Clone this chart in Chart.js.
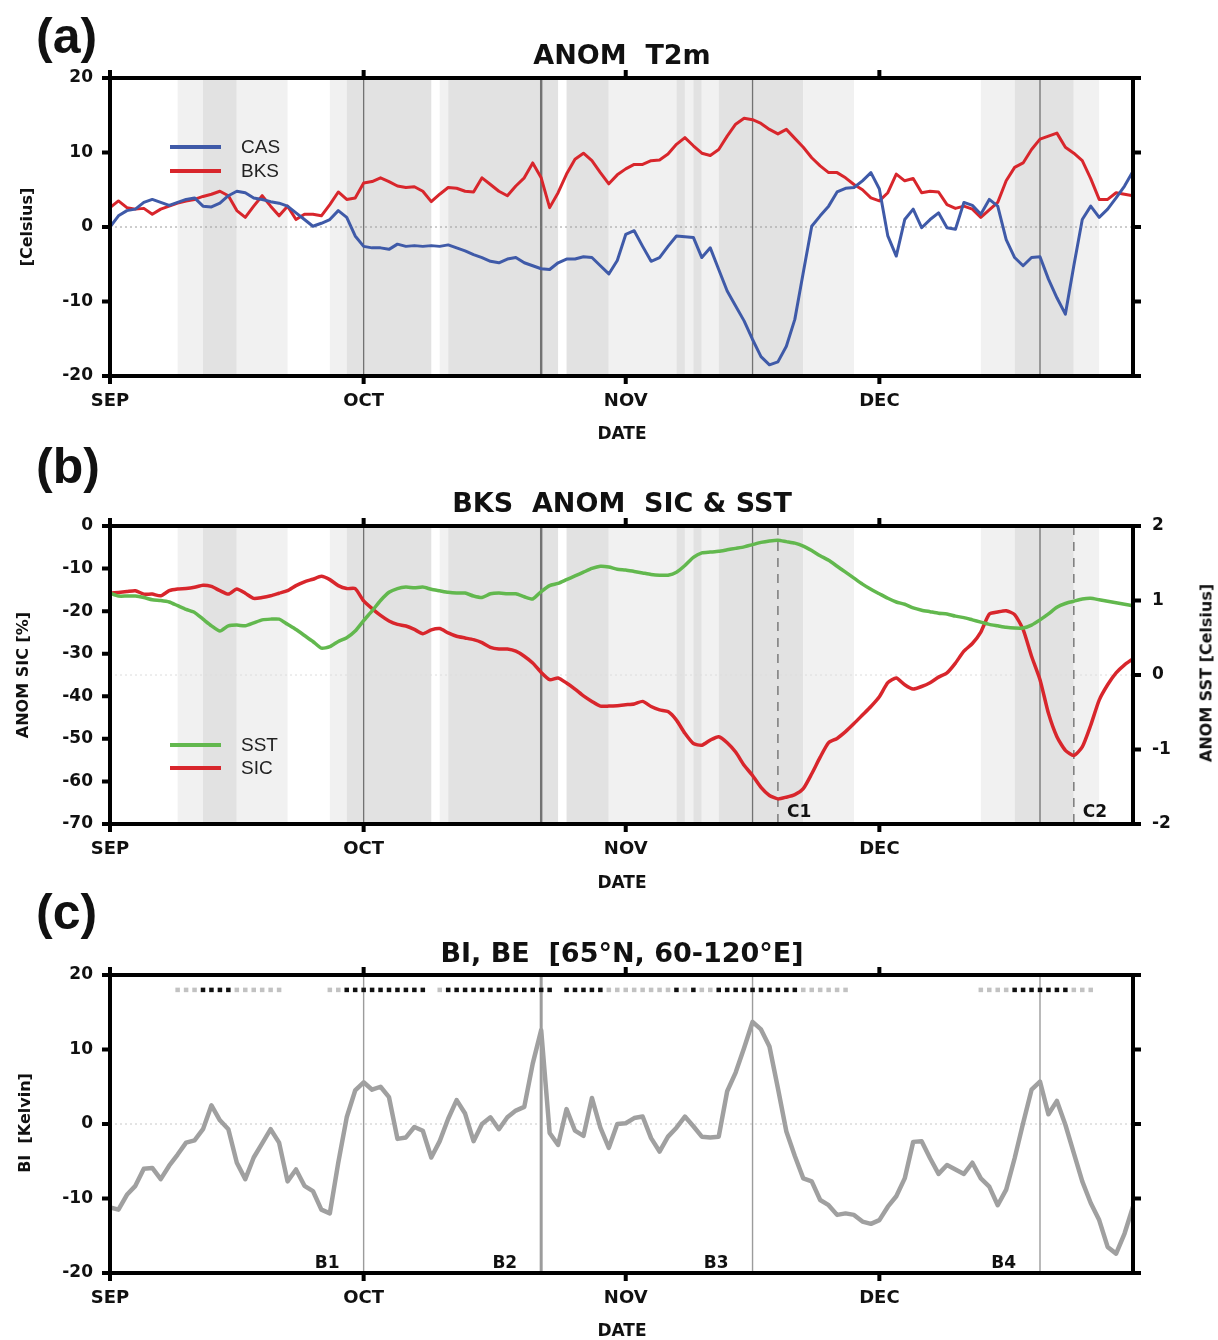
<!DOCTYPE html>
<html>
<head>
<meta charset="utf-8">
<script src="https://cdn.jsdelivr.net/npm/chart.js@4.4.1/dist/chart.umd.min.js"></script>
<style>
  body { margin: 0; background: #fff; width: 1218px; height: 1340px; position: relative; overflow: hidden; }
  canvas { position: absolute; left: 0; }
  .txt { position: absolute; white-space: pre; line-height: 1; color: #111; }
</style>
</head>
<body>
<canvas id="panel-a" width="1218" height="448" style="top:0px"></canvas>
<canvas id="panel-b" width="1218" height="449" style="top:448px"></canvas>
<canvas id="panel-c" width="1218" height="443" style="top:897px"></canvas>
<script>
// --- Data (day 0 = 1 Sep, day 121 = 31 Dec) ---
const monthStarts = [0, 30, 61, 91];
const monthNames = ['SEP', 'OCT', 'NOV', 'DEC'];

const casT2m = [
  0.0, 1.5, 2.2, 2.4, 3.3, 3.7, 3.3, 2.9, 3.3, 3.7, 3.9, 2.8, 2.7, 3.2, 4.2, 4.8, 4.6, 3.9, 3.7, 3.4,
  3.2, 2.8, 1.9, 1.0, 0.1, 0.5, 1.0, 2.2, 1.3, -1.2, -2.6, -2.8, -2.8, -3.0, -2.3, -2.6, -2.5, -2.6, -2.5, -2.6,
  -2.4, -2.8, -3.2, -3.7, -4.1, -4.6, -4.8, -4.3, -4.1, -4.8, -5.2, -5.6, -5.7, -4.8, -4.3, -4.3, -4.0, -4.1, -5.2, -6.3,
  -4.5, -1.0, -0.5, -2.6, -4.6, -4.1, -2.6, -1.2, -1.3, -1.4, -4.1, -2.8, -5.7, -8.6, -10.6, -12.6, -15.1, -17.4, -18.5, -18.1,
  -16.0, -12.4, -6.1, 0.1, 1.5, 2.8, 4.7, 5.2, 5.3, 6.2, 7.3, 5.1, -1.2, -3.9, 1.0, 2.4, -0.1, 1.0, 1.9, -0.1,
  -0.3, 3.3, 2.9, 1.7, 3.7, 2.8, -1.7, -4.1, -5.2, -4.1, -4.0, -7.0, -9.5, -11.7, -5.2, 1.0, 2.8, 1.3, 2.4, 3.9,
  5.5, 7.5
];
const bksT2m = [
  2.6, 3.5, 2.6, 2.4, 2.5, 1.7, 2.4, 2.8, 3.2, 3.5, 3.7, 4.1, 4.4, 4.8, 4.2, 2.2, 1.3, 2.8, 4.2, 2.8,
  1.5, 2.8, 1.0, 1.7, 1.7, 1.5, 3.0, 4.7, 3.7, 3.9, 5.9, 6.1, 6.6, 6.1, 5.5, 5.3, 5.4, 4.8, 3.4, 4.4,
  5.3, 5.2, 4.8, 4.7, 6.6, 5.7, 4.8, 4.2, 5.5, 6.6, 8.6, 6.6, 2.6, 4.6, 7.1, 9.1, 9.9, 8.9, 7.3, 5.8,
  7.0, 7.8, 8.4, 8.4, 8.9, 9.0, 9.8, 11.1, 12.0, 10.9, 9.9, 9.6, 10.4, 12.2, 13.8, 14.6, 14.4, 13.9, 13.1, 12.5,
  13.1, 11.9, 10.7, 9.3, 8.2, 7.3, 7.3, 6.6, 5.7, 5.0, 3.9, 3.5, 4.6, 7.1, 6.2, 6.5, 4.6, 4.8, 4.7, 3.0,
  2.5, 2.8, 2.4, 1.3, 2.3, 3.3, 6.2, 8.0, 8.6, 10.4, 11.8, 12.2, 12.6, 10.7, 9.9, 8.9, 6.5, 3.7, 3.7, 4.6,
  4.4, 4.2
];
const bksSst = [
  1.10, 1.06, 1.06, 1.06, 1.04, 1.01, 1.00, 0.98, 0.93, 0.88, 0.84, 0.75, 0.66, 0.59, 0.66, 0.67, 0.66, 0.70, 0.74, 0.75,
  0.75, 0.68, 0.61, 0.53, 0.45, 0.36, 0.38, 0.45, 0.50, 0.59, 0.73, 0.86, 1.00, 1.11, 1.16, 1.18, 1.17, 1.18, 1.15, 1.13,
  1.11, 1.10, 1.10, 1.06, 1.04, 1.09, 1.10, 1.09, 1.09, 1.05, 1.02, 1.12, 1.20, 1.23, 1.28, 1.33, 1.38, 1.43, 1.46, 1.45,
  1.42, 1.41, 1.39, 1.37, 1.35, 1.34, 1.34, 1.38, 1.47, 1.58, 1.64, 1.65, 1.66, 1.68, 1.70, 1.72, 1.75, 1.78, 1.80, 1.81,
  1.79, 1.77, 1.73, 1.67, 1.60, 1.54, 1.46, 1.38, 1.30, 1.22, 1.15, 1.09, 1.03, 0.98, 0.95, 0.90, 0.87, 0.85, 0.83, 0.82,
  0.79, 0.77, 0.74, 0.71, 0.68, 0.66, 0.64, 0.63, 0.63, 0.67, 0.74, 0.82, 0.91, 0.96, 0.99, 1.02, 1.03, 1.01, 0.99, 0.97,
  0.95, 0.93
];
const bksSic = [
  -15.8, -15.6, -15.4, -15.2, -16.0, -16.0, -16.4, -15.2, -14.8, -14.7, -14.4, -13.9, -14.2, -15.2, -16.0, -14.8, -15.8, -17.0, -16.8, -16.4,
  -15.8, -15.2, -14.0, -13.1, -12.5, -11.8, -12.6, -14.0, -14.7, -14.7, -17.6, -19.4, -21.0, -22.3, -23.1, -23.5, -24.3, -25.3, -24.4, -24.1,
  -25.1, -25.9, -26.3, -26.7, -27.4, -28.5, -28.9, -28.9, -29.4, -30.6, -32.2, -34.4, -36.1, -35.7, -36.9, -38.3, -39.9, -41.2, -42.3, -42.3,
  -42.2, -42.0, -41.8, -41.2, -42.4, -43.2, -43.6, -45.6, -48.7, -51.1, -51.5, -50.3, -49.5, -50.9, -53.1, -56.2, -58.6, -61.4, -63.3, -64.1,
  -63.7, -63.1, -61.7, -58.2, -54.3, -50.9, -49.9, -48.3, -46.4, -44.4, -42.4, -40.1, -36.8, -35.7, -37.3, -38.3, -37.7, -36.8, -35.5, -34.5,
  -32.2, -29.4, -27.6, -24.9, -20.7, -20.2, -19.9, -20.8, -24.3, -30.6, -36.1, -44.0, -49.5, -52.7, -53.9, -51.9, -46.8, -40.9, -37.3, -34.5,
  -32.6, -31.2
];
const blockingIndex = [
  -11.2, -11.5, -9.5, -8.3, -6.0, -5.9, -7.4, -5.6, -4.1, -2.5, -2.2, -0.7, 2.5, 0.5, -0.7, -5.2, -7.4, -4.5, -2.6, -0.7,
  -2.5, -7.7, -6.1, -8.3, -9.0, -11.5, -12.0, -5.2, 0.9, 4.5, 5.6, 4.6, 5.0, 3.6, -2.0, -1.8, -0.4, -0.9, -4.5, -2.3,
  0.7, 3.2, 1.4, -2.3, 0.0, 0.9, -0.7, 0.9, 1.8, 2.3, 8.1, 12.6, -1.2, -2.8, 2.0, -0.9, -1.6, 3.5, -0.5, -3.2,
  0.0, 0.1, 0.8, 1.0, -1.9, -3.7, -1.7, -0.5, 1.0, -0.3, -1.7, -1.8, -1.7, 4.4, 6.9, 10.2, 13.7, 12.7, 10.4, 4.8,
  -1.0, -4.3, -7.3, -7.7, -10.2, -10.9, -12.2, -12.0, -12.2, -13.1, -13.4, -12.9, -11.1, -9.7, -7.3, -2.4, -2.3, -4.6, -6.7, -5.5,
  -6.1, -6.7, -5.2, -7.3, -8.4, -10.9, -8.8, -4.6, 0.1, 4.6, 5.7, 1.3, 3.1, -0.1, -3.9, -7.7, -10.6, -12.9, -16.5, -17.4,
  -14.7, -11.1
];
// blocking event class per day: 0 none, 1 weak (grey), 2 strong (black)
const blockClass = [
  0, 0, 0, 0, 0, 0, 0, 0, 1, 1, 1, 2, 2, 2, 2, 1, 1, 1, 1, 1,
  1, 0, 0, 0, 0, 0, 1, 1, 2, 2, 2, 2, 2, 2, 2, 2, 2, 2, 0, 1,
  2, 2, 2, 2, 2, 2, 2, 2, 2, 2, 2, 2, 2, 0, 2, 2, 2, 2, 2, 1,
  1, 1, 1, 1, 1, 1, 1, 2, 1, 2, 1, 1, 2, 2, 2, 2, 2, 2, 2, 2,
  2, 2, 1, 1, 1, 1, 1, 1, 0, 0, 0, 0, 0, 0, 0, 0, 0, 0, 0, 0,
  0, 0, 0, 1, 1, 1, 1, 2, 2, 2, 2, 2, 2, 2, 1, 1, 1, 0, 0, 0,
  0, 0
];
const blockPeakDays = [30, 51, 76, 110];
const blockPeakNames = ['B1', 'B2', 'B3', 'B4'];
const sicMinDays = [79, 114];
const sicMinNames = ['C1', 'C2'];
const dotLevel = 18;

Chart.defaults.font.family = "'DejaVu Sans', sans-serif";
Chart.defaults.color = '#111';

const toPoints = arr => arr.map((v, i) => ({ x: i, y: v }));
const PLOT_TOP = 78;

// --- Panel decorations: shading, reference lines, frame, labels, legend ---
const panelDecor = {
  id: 'panelDecor',
  beforeDatasetsDraw(chart, args, opts) {
    const { ctx, chartArea: a, scales } = chart;
    const x = scales.x;
    ctx.save();
    if (opts.bands) {
      let start = 0;
      for (let d = 1; d <= blockClass.length; d++) {
        if (d === blockClass.length || blockClass[d] !== blockClass[start]) {
          const c = blockClass[start];
          if (c > 0) {
            ctx.fillStyle = c === 2 ? '#e2e2e2' : '#f1f1f1';
            const x0 = x.getPixelForValue(start);
            const x1 = x.getPixelForValue(Math.min(d, x.max));
            ctx.fillRect(x0, a.top, x1 - x0, a.bottom - a.top);
          }
          start = d;
        }
      }
    }
    if (opts.zero) {
      const y0 = scales[opts.zero.scale].getPixelForValue(0);
      ctx.strokeStyle = opts.zero.color;
      ctx.lineWidth = 1;
      ctx.setLineDash([2, 3]);
      ctx.beginPath();
      ctx.moveTo(a.left, y0);
      ctx.lineTo(a.right, y0);
      ctx.stroke();
      ctx.setLineDash([]);
    }
    blockPeakDays.forEach((d, i) => {
      const px = x.getPixelForValue(d);
      ctx.strokeStyle = opts.vColor;
      ctx.lineWidth = opts.vWidths[i];
      ctx.beginPath();
      ctx.moveTo(px, a.top);
      ctx.lineTo(px, a.bottom);
      ctx.stroke();
    });
    if (opts.sicMarks) {
      ctx.strokeStyle = '#7a7a7a';
      ctx.lineWidth = 1.5;
      ctx.setLineDash([9, 7]);
      sicMinDays.forEach(d => {
        const px = x.getPixelForValue(d);
        ctx.beginPath();
        ctx.moveTo(px, a.top);
        ctx.lineTo(px, a.bottom);
        ctx.stroke();
      });
      ctx.setLineDash([]);
    }
    ctx.restore();
  },
  afterDraw(chart, args, opts) {
    const { ctx, chartArea: a, scales } = chart;
    const x = scales.x;
    ctx.save();
    // frame
    ctx.strokeStyle = '#000';
    ctx.lineWidth = 4;
    ctx.lineCap = 'butt';
    ctx.strokeRect(a.left, a.top, a.right - a.left, a.bottom - a.top);
    const tl = 8;
    ctx.beginPath();
    monthStarts.forEach(m => {
      const px = x.getPixelForValue(m);
      ctx.moveTo(px, a.bottom); ctx.lineTo(px, a.bottom + tl);
      ctx.moveTo(px, a.top); ctx.lineTo(px, a.top - tl);
    });
    scales.y.ticks.forEach(t => {
      const py = scales.y.getPixelForValue(t.value);
      ctx.moveTo(a.left - tl, py); ctx.lineTo(a.left, py);
    });
    const rs = scales[opts.rightScale];
    rs.ticks.forEach(t => {
      const py = rs.getPixelForValue(t.value);
      ctx.moveTo(a.right, py); ctx.lineTo(a.right + tl, py);
    });
    ctx.stroke();

    // event labels
    ctx.fillStyle = '#111';
    ctx.font = "bold 17px 'DejaVu Sans'";
    ctx.textBaseline = 'alphabetic';
    if (opts.blockLabels) {
      ctx.textAlign = 'right';
      blockPeakDays.forEach((d, i) => {
        ctx.fillText(blockPeakNames[i], x.getPixelForValue(d) - 24, a.bottom - 5);
      });
    }
    if (opts.sicMarks) {
      ctx.textAlign = 'left';
      sicMinDays.forEach((d, i) => {
        ctx.fillText(sicMinNames[i], x.getPixelForValue(d) + 9, a.bottom - 7);
      });
    }

    // legend
    if (opts.legend) {
      const L = opts.legend;
      ctx.font = "19px 'Liberation Sans'";
      ctx.textAlign = 'left';
      ctx.textBaseline = 'middle';
      L.items.forEach((di, k) => {
        const ds = chart.data.datasets[di];
        const y = a.top + L.dy0 + k * L.step;
        ctx.strokeStyle = ds.borderColor;
        ctx.lineWidth = 4;
        ctx.beginPath();
        ctx.moveTo(L.x, y); ctx.lineTo(L.x + L.len, y);
        ctx.stroke();
        ctx.fillStyle = '#222';
        ctx.fillText(ds.label, L.textX, y + 1);
      });
    }
    ctx.restore();
  }
};

function xAxis(canvasHeight) {
  return {
    type: 'linear', min: 0, max: 121,
    afterBuildTicks: s => { s.ticks = monthStarts.map(v => ({ value: v })); },
    ticks: {
      callback: v => monthNames[monthStarts.indexOf(v)],
      padding: 15, autoSkip: false, maxRotation: 0,
      font: { size: 18, weight: 'bold' }
    },
    grid: { display: false, drawTicks: false },
    border: { display: false },
    afterFit: s => { s.height = canvasHeight - 376; }
  };
}

function yAxis(min, max, step) {
  return {
    min: min, max: max,
    ticks: { stepSize: step, padding: 17, font: { size: 17, weight: 'bold' } },
    grid: { display: false, drawTicks: false },
    border: { display: false },
    afterFit: s => { s.width = 110; }
  };
}

function baseOptions(canvasHeight, rightPad) {
  return {
    responsive: false,
    animation: false,
    devicePixelRatio: 1,
    layout: { padding: { top: PLOT_TOP, right: rightPad, bottom: 0, left: 0 } },
    plugins: { legend: { display: false }, tooltip: { enabled: false } },
    elements: { point: { radius: 0 }, line: { borderJoinStyle: 'round' } }
  };
}

// --- Panel (a): T2m anomalies ---
const optA = baseOptions(448, 85);
optA.scales = { x: xAxis(448), y: yAxis(-20, 20, 10) };
optA.plugins.panelDecor = {
  bands: true, zero: { scale: 'y', color: '#9a9a9a' },
  vColor: '#727272', vWidths: [1.3, 2.4, 1.3, 1.3],
  rightScale: 'y',
  legend: { x: 170, len: 51, textX: 241, dy0: 69, step: 24, items: [0, 1] }
};
new Chart(document.getElementById('panel-a'), {
  type: 'line',
  data: {
    datasets: [
      { label: 'CAS', data: toPoints(casT2m), borderColor: '#3f5aa8', borderWidth: 3, tension: 0 },
      { label: 'BKS', data: toPoints(bksT2m), borderColor: '#d8262c', borderWidth: 3, tension: 0 }
    ]
  },
  options: optA,
  plugins: [panelDecor]
});

// --- Panel (b): BKS SIC and SST ---
const optB = baseOptions(449, 0);
optB.scales = {
  x: xAxis(449),
  y: yAxis(-70, 0, 10),
  y2: {
    position: 'right', min: -2, max: 2,
    ticks: { stepSize: 1, padding: 19, font: { size: 17, weight: 'bold' } },
    grid: { display: false, drawTicks: false },
    border: { display: false },
    afterFit: s => { s.width = 85; }
  }
};
optB.plugins.panelDecor = {
  bands: true, zero: { scale: 'y2', color: '#dcdcdc' },
  vColor: '#727272', vWidths: [1.3, 2.4, 1.3, 1.3],
  rightScale: 'y2', sicMarks: true,
  legend: { x: 170, len: 51, textX: 241, dy0: 219, step: 23, items: [0, 1] }
};
new Chart(document.getElementById('panel-b'), {
  type: 'line',
  data: {
    datasets: [
      { label: 'SST', data: toPoints(bksSst), yAxisID: 'y2', borderColor: '#62b84e', borderWidth: 3.5, tension: 0.2 },
      { label: 'SIC', data: toPoints(bksSic), yAxisID: 'y', borderColor: '#d8262c', borderWidth: 3.5, tension: 0.2 }
    ]
  },
  options: optB,
  plugins: [panelDecor]
});

// --- Panel (c): blocking index ---
const optC = baseOptions(443, 85);
optC.scales = { x: xAxis(443), y: yAxis(-20, 20, 10) };
optC.plugins.panelDecor = {
  bands: false, zero: { scale: 'y', color: '#c8c8c8' },
  vColor: '#9c9c9c', vWidths: [1.4, 3, 1.4, 1.4],
  rightScale: 'y', blockLabels: true
};
const strongDots = [], weakDots = [];
blockClass.forEach((c, d) => {
  if (c === 2) strongDots.push({ x: d, y: dotLevel });
  if (c === 1) weakDots.push({ x: d, y: dotLevel });
});
new Chart(document.getElementById('panel-c'), {
  type: 'line',
  data: {
    datasets: [
      { label: 'BE strong', data: strongDots, showLine: false, pointStyle: 'rect', pointRadius: 3.2,
        pointBackgroundColor: '#111', pointBorderWidth: 0 },
      { label: 'BE weak', data: weakDots, showLine: false, pointStyle: 'rect', pointRadius: 3.2,
        pointBackgroundColor: '#c2c2c2', pointBorderWidth: 0 },
      { label: 'BI', data: toPoints(blockingIndex), borderColor: '#a0a0a0', borderWidth: 4.5, tension: 0 }
    ]
  },
  options: optC,
  plugins: [panelDecor]
});

// --- Page text: panel tags, titles, axis titles ---
function addText(text, x, y, font, extra) {
  const el = document.createElement('div');
  el.className = 'txt';
  el.textContent = text;
  el.style.font = font;
  el.style.left = x + 'px';
  el.style.top = y + 'px';
  el.style.transform = extra || 'translate(-50%, -50%)';
  document.body.appendChild(el);
}
const tagFont = "bold 50px 'Liberation Sans'";
const titleFont = "bold 27px 'DejaVu Sans'";
const axisFont = "bold 16px 'DejaVu Sans'";
const dateFont = "bold 17px 'DejaVu Sans'";
const rot = 'translate(-50%, -50%) rotate(-90deg)';

addText('(a)', 36, 36, tagFont, 'translate(0, -50%)');
addText('(b)', 36, 466, tagFont, 'translate(0, -50%)');
addText('(c)', 36, 912, tagFont, 'translate(0, -50%)');

addText('ANOM  T2m', 622, 54, titleFont);
addText('BKS  ANOM  SIC & SST', 622, 502, titleFont);
addText('BI, BE  [65°N, 60-120°E]', 622, 952, titleFont);

addText('[Celsius]', 26, 227, axisFont, rot);
addText('ANOM SIC [%]', 22, 675, axisFont, rot);
addText('ANOM SST [Celsius]', 1206, 673, axisFont, rot);
addText('BI  [Kelvin]', 24, 1123, axisFont, rot);

addText('DATE', 622, 433, dateFont);
addText('DATE', 622, 882, dateFont);
addText('DATE', 622, 1330, dateFont);
</script>
</body>
</html>
